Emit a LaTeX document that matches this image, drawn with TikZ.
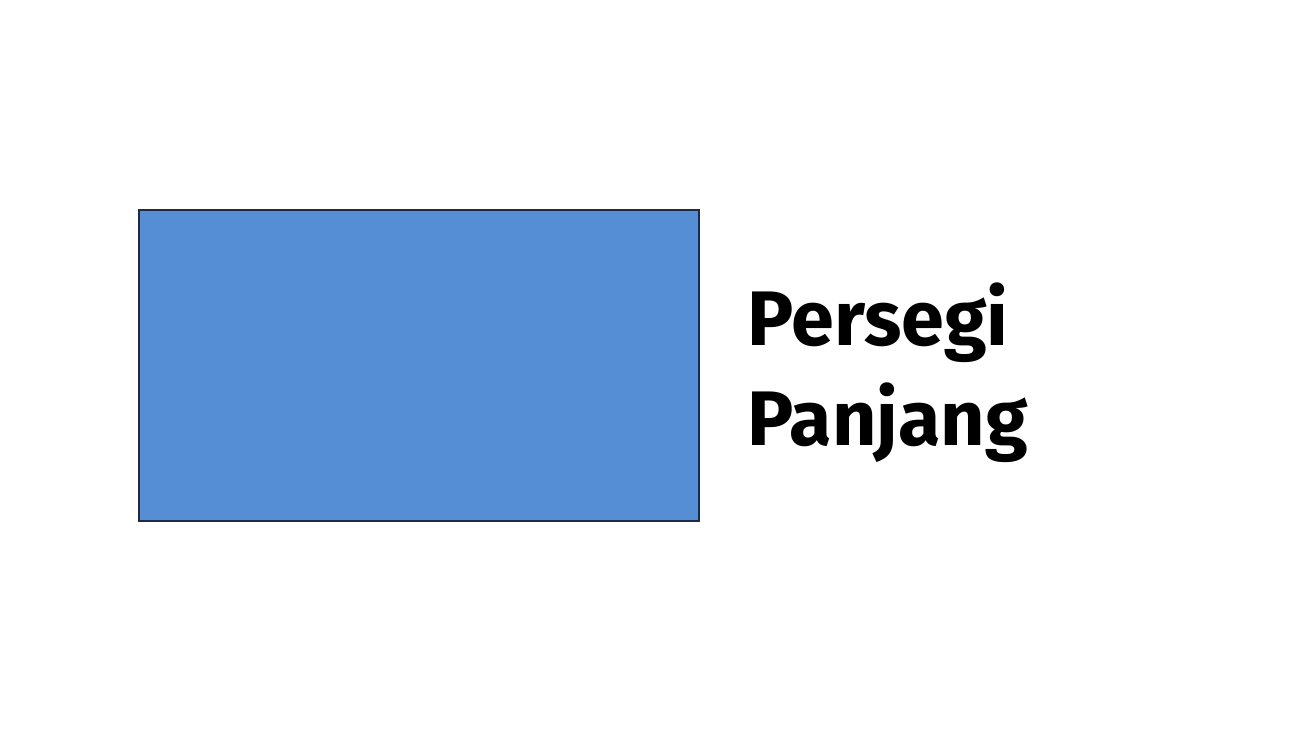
\documentclass[tikz,border=0pt]{standalone}
\usepackage{fontspec}
\setmainfont{Fira Sans}
\definecolor{rectfill}{HTML}{558ED5}
\definecolor{rectborder}{HTML}{1F2A44}
\tikzset{
  shapebox/.style={draw=rectborder, fill=rectfill, line width=1.1pt},
  labeltext/.style={font=\fontsize{44}{56}\selectfont\bfseries, align=left, inner sep=0pt, text=black}
}
\begin{document}
\begin{tikzpicture}[x=0.02cm,y=-0.02cm]
\useasboundingbox (0,0) rectangle (1300,730);
\fill[white] (0,0) rectangle (1300,730);
\node[shapebox, minimum width=560*0.02cm, minimum height=311*0.02cm, inner sep=0pt, anchor=north west] (rect) at (138,209) {};
\node[labeltext, anchor=base west] (lab1) at (747,345) {Persegi};
\node[labeltext, anchor=base west] (lab2) at (747,445) {Panjang};
\end{tikzpicture}
\end{document}
